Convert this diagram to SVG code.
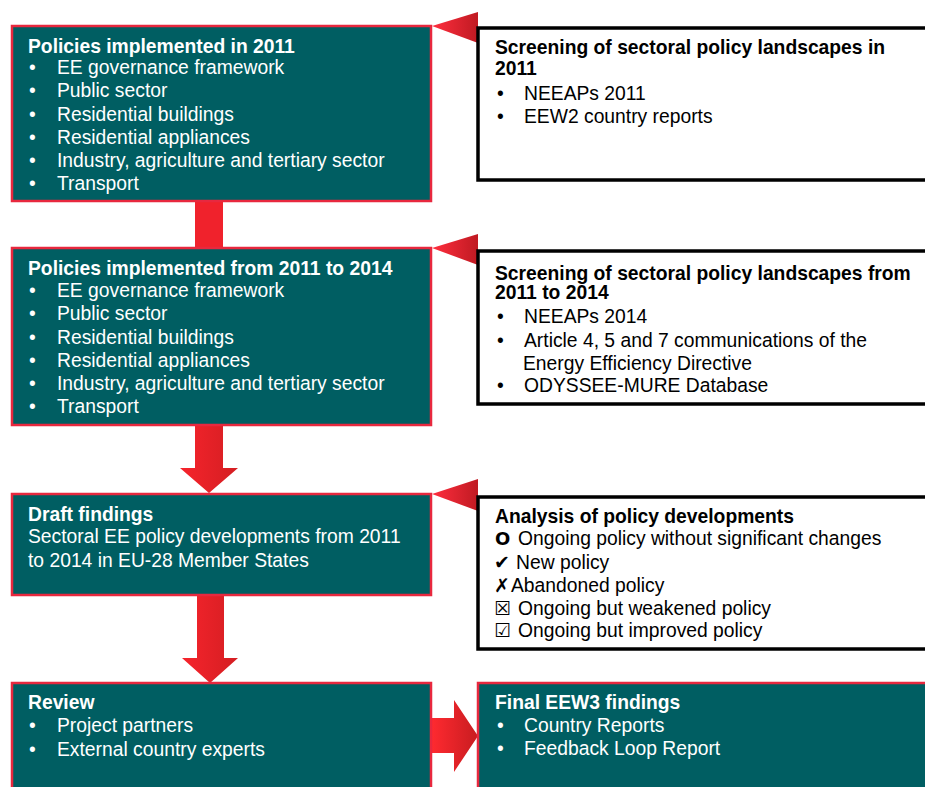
<svg xmlns="http://www.w3.org/2000/svg" width="925" height="787" viewBox="0 0 925 787">
<defs>
<linearGradient id="gv" x1="0" y1="0" x2="1" y2="0">
<stop offset="0" stop-color="#F6242C"/><stop offset="1" stop-color="#D41E22"/>
</linearGradient>
<linearGradient id="gh" x1="0" y1="0" x2="1" y2="0">
<stop offset="0" stop-color="#FF2A30"/><stop offset="1" stop-color="#C81C20"/>
</linearGradient>
<linearGradient id="gt" x1="0" y1="0" x2="1" y2="0">
<stop offset="0" stop-color="#FF2E3E"/><stop offset="1" stop-color="#C01A22"/>
</linearGradient>
</defs>
<style>
.teal{fill:#005E62;stroke:#E8283E;stroke-width:2.5}
.wbox{fill:#FFFFFF;stroke:#000000;stroke-width:3.5}
text{font-family:"Liberation Sans",Arial,"DejaVu Sans",sans-serif;font-size:19.3px}
.w{fill:#FFFFFF}
.k{fill:#000000}
.b{font-weight:bold}
.sym{font-family:"DejaVu Sans",sans-serif;font-size:19px}
.tri{fill:url(#gt)}
</style>
<rect width="925" height="787" fill="#FFFFFF"/>

<g id="connectors">
<rect x="195" y="200" width="28" height="49" fill="#F0222C"/>
<polygon points="195,425 223,425 223,468 238,468 209,493 180,468 195,468" fill="url(#gv)"/>
<polygon points="197,595 224,595 224,658 238,658 210,683 182,658 197,658" fill="url(#gv)"/>
<polygon points="431,718 454,718 454,700 478,736 454,772 454,753 431,753" fill="url(#gh)"/>
<polygon class="tri" points="432,26 478,12 478,43"/>
<polygon class="tri" points="432,248 478,234 478,265"/>
<polygon class="tri" points="432,494 478,479 478,511"/>
</g>

<g id="node-policies-2011">
<rect class="teal" x="12" y="26" width="419" height="175"/>
<text class="w"><tspan class="b" x="28" y="53">Policies implemented in 2011</tspan></text>
<text class="w">
<tspan x="29" y="74">•</tspan><tspan x="57" y="74">EE governance framework</tspan>
<tspan x="29" y="97">•</tspan><tspan x="57" y="97">Public sector</tspan>
<tspan x="29" y="121">•</tspan><tspan x="57" y="121">Residential buildings</tspan>
<tspan x="29" y="144">•</tspan><tspan x="57" y="144">Residential appliances</tspan>
<tspan x="29" y="167">•</tspan><tspan x="57" y="167">Industry, agriculture and tertiary sector</tspan>
<tspan x="29" y="190">•</tspan><tspan x="57" y="190">Transport</tspan>
</text>
</g>

<g id="node-policies-2011-2014">
<rect class="teal" x="12" y="248" width="419" height="177"/>
<text class="w"><tspan class="b" x="28" y="275">Policies implemented from 2011 to 2014</tspan></text>
<text class="w">
<tspan x="29" y="297">•</tspan><tspan x="57" y="297">EE governance framework</tspan>
<tspan x="29" y="320">•</tspan><tspan x="57" y="320">Public sector</tspan>
<tspan x="29" y="344">•</tspan><tspan x="57" y="344">Residential buildings</tspan>
<tspan x="29" y="367">•</tspan><tspan x="57" y="367">Residential appliances</tspan>
<tspan x="29" y="390">•</tspan><tspan x="57" y="390">Industry, agriculture and tertiary sector</tspan>
<tspan x="29" y="413">•</tspan><tspan x="57" y="413">Transport</tspan>
</text>
</g>

<g id="node-draft-findings">
<rect class="teal" x="12" y="494" width="419" height="101"/>
<text class="w"><tspan class="b" x="28" y="521">Draft findings</tspan></text>
<text class="w">
<tspan x="28" y="543">Sectoral EE policy developments from 2011</tspan>
<tspan x="28" y="567">to 2014 in EU-28 Member States</tspan>
</text>
</g>

<g id="node-review">
<rect class="teal" x="12" y="683" width="419" height="115"/>
<text class="w"><tspan class="b" x="28" y="709">Review</tspan></text>
<text class="w">
<tspan x="29" y="732">•</tspan><tspan x="57" y="732">Project partners</tspan>
<tspan x="29" y="756">•</tspan><tspan x="57" y="756">External country experts</tspan>
</text>
</g>

<g id="node-final-findings">
<rect class="teal" x="478" y="683" width="460" height="115"/>
<text class="w"><tspan class="b" x="495" y="709">Final EEW3 findings</tspan></text>
<text class="w">
<tspan x="497" y="732">•</tspan><tspan x="524" y="732">Country Reports</tspan>
<tspan x="497" y="755">•</tspan><tspan x="524" y="755">Feedback Loop Report</tspan>
</text>
</g>

<g id="node-screening-2011">
<rect class="wbox" x="478" y="28" width="460" height="152"/>
<text class="k b"><tspan x="495" y="54">Screening of sectoral policy landscapes in</tspan><tspan x="495" y="75">2011</tspan></text>
<text class="k">
<tspan x="497" y="100">•</tspan><tspan x="524" y="100">NEEAPs 2011</tspan>
<tspan x="497" y="123">•</tspan><tspan x="524" y="123">EEW2 country reports</tspan>
</text>
</g>

<g id="node-screening-2011-2014">
<rect class="wbox" x="478" y="251" width="460" height="153"/>
<text class="k b"><tspan x="495" y="280">Screening of sectoral policy landscapes from</tspan><tspan x="495" y="299">2011 to 2014</tspan></text>
<text class="k">
<tspan x="497" y="323">•</tspan><tspan x="524" y="323">NEEAPs 2014</tspan>
<tspan x="497" y="347">•</tspan><tspan x="524" y="347">Article 4, 5 and 7 communications of the</tspan>
<tspan x="523" y="370">Energy Efficiency Directive</tspan>
<tspan x="497" y="392">•</tspan><tspan x="524" y="392">ODYSSEE-MURE Database</tspan>
</text>
</g>

<g id="node-analysis">
<rect class="wbox" x="478" y="497" width="460" height="152"/>
<text class="k b"><tspan x="495" y="523">Analysis of policy developments</tspan></text>
<text class="k">
<tspan x="495" y="545" font-family="DejaVu Sans, sans-serif" font-weight="bold" font-size="18">O</tspan><tspan x="518" y="545">Ongoing policy without significant changes</tspan>
<tspan class="sym" x="494" y="569">✔</tspan><tspan x="516" y="569">New policy</tspan>
<tspan class="sym" x="494" y="592">✗</tspan><tspan x="511" y="592">Abandoned policy</tspan>
<tspan class="sym" x="494" y="615">☒</tspan><tspan x="518" y="615">Ongoing but weakened policy</tspan>
<tspan class="sym" x="494" y="637">☑</tspan><tspan x="518" y="637">Ongoing but improved policy</tspan>
</text>
</g>
</svg>
